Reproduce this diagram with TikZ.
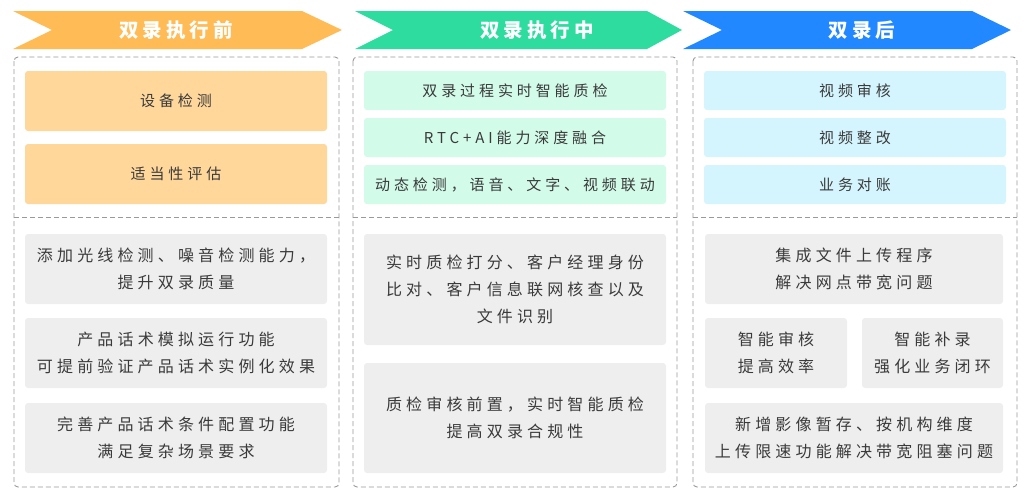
\documentclass[tikz,border=0pt]{standalone}
\usepackage{fontspec}
\newfontfamily\cjk{Noto Sans CJK SC}[LetterSpace=26]
\newfontfamily\cjkhead{Noto Sans CJK SC}[LetterSpace=20]
\definecolor{hOrange}{HTML}{FFBB55}
\definecolor{hGreen}{HTML}{2EDCA0}
\definecolor{hBlue}{HTML}{2288FF}
\definecolor{bOrange}{HTML}{FFD79B}
\definecolor{bGreen}{HTML}{D2FBEA}
\definecolor{bCyan}{HTML}{D4F5FD}
\definecolor{bGray}{HTML}{EEEEEE}
\definecolor{txt}{HTML}{3A3A3A}
\definecolor{dashc}{HTML}{9A9A9A}
\tikzset{
  hdr/.style={text=white, font=\cjkhead\fontsize{19.5}{22}\selectfont\bfseries},
  frame/.style={draw=dashc, line width=0.9pt, dash pattern=on 5pt off 3pt, rounded corners=4pt},
  divline/.style={draw=dashc, line width=0.9pt, dash pattern=on 5pt off 3pt},
  card/.style={rounded corners=3pt, inner sep=0pt, outer sep=0pt, text=txt, align=center},
  upcard/.style={card, font=\cjk\fontsize{15}{18}\selectfont},
  lowcard/.style={card, fill=bGray, font=\cjk\fontsize{16}{27}\selectfont},
}
\begin{document}
\begin{tikzpicture}[x=1pt,y=-1pt]
\useasboundingbox (0,0) rectangle (1031,501);
% headers
\fill[hOrange] (13,11) -- (302,11) -- (342,30) -- (302,49) -- (13,49) -- (52,30) -- cycle;
\fill[hGreen] (355,11) -- (647,11) -- (682,30) -- (647,49) -- (355,49) -- (393,30) -- cycle;
\fill[hBlue] (683,11) -- (972,11) -- (1011,30) -- (972,49) -- (683,49) -- (722,30) -- cycle;
\node[hdr] (h1) at (176,30) {双录执行前};
\node[hdr] (h2) at (537,30) {双录执行中};
\node[hdr] (h3) at (862,30) {双录后};
% frames
\draw[frame] (14,57) rectangle (339,487);
\draw[frame] (353,57) rectangle (677,487);
\draw[frame] (693,57) rectangle (1017,487);
\draw[divline] (14,217) -- (339,217);
\draw[divline] (353,217) -- (677,217);
\draw[divline] (693,217) -- (1017,217);
% column 1
\node[upcard, fill=bOrange, minimum width=302pt, minimum height=60pt] (a1) at (176,101) {设备检测};
\node[upcard, fill=bOrange, minimum width=302pt, minimum height=60pt] (a2) at (176,174) {适当性评估};
\node[lowcard, minimum width=302pt, minimum height=70pt] (a3) at (176,269) {添加光线检测、噪音检测能力，\\提升双录质量};
\node[lowcard, minimum width=302pt, minimum height=70pt] (a4) at (176,353) {产品话术模拟运行功能\\可提前验证产品话术实例化效果};
\node[lowcard, minimum width=302pt, minimum height=70pt] (a5) at (176,438) {完善产品话术条件配置功能\\满足复杂场景要求};
% column 2
\node[upcard, fill=bGreen, minimum width=302pt, minimum height=39pt] (b1) at (515,90.5) {双录过程实时智能质检};
\node[upcard, fill=bGreen, minimum width=302pt, minimum height=39pt] (b2) at (515,137.5) {RTC+AI能力深度融合};
\node[upcard, fill=bGreen, minimum width=302pt, minimum height=39pt] (b3) at (515,184.5) {动态检测，语音、文字、视频联动};
\node[lowcard, minimum width=302pt, minimum height=111pt] (b4) at (515,289.5) {实时质检打分、客户经理身份\\比对、客户信息联网核查以及\\文件识别};
\node[lowcard, minimum width=302pt, minimum height=110pt] (b5) at (515,418) {质检审核前置，实时智能质检\\提高双录合规性};
% column 3
\node[upcard, fill=bCyan, minimum width=302pt, minimum height=39pt] (c1) at (855,90.5) {视频审核};
\node[upcard, fill=bCyan, minimum width=302pt, minimum height=39pt] (c2) at (855,137.5) {视频整改};
\node[upcard, fill=bCyan, minimum width=302pt, minimum height=39pt] (c3) at (855,184.5) {业务对账};
\node[lowcard, minimum width=298pt, minimum height=70pt] (c4) at (854,269) {集成文件上传程序\\解决网点带宽问题};
\node[lowcard, minimum width=142pt, minimum height=70pt] (c5) at (776,353) {智能审核\\提高效率};
\node[lowcard, minimum width=141pt, minimum height=70pt] (c6) at (932.5,353) {智能补录\\强化业务闭环};
\node[lowcard, minimum width=298pt, minimum height=70pt] (c7) at (854,438) {新增影像暂存、按机构维度\\上传限速功能解决带宽阻塞问题};
\end{tikzpicture}
\end{document}
